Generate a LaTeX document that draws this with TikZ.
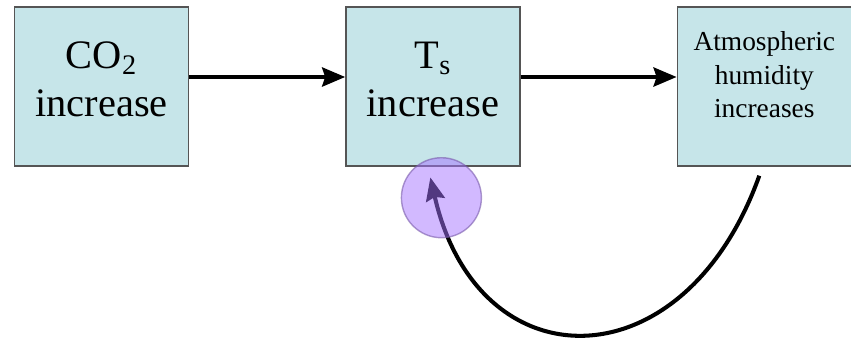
\documentclass[tikz,border=0pt]{standalone}
\usepackage{fontspec}
\setmainfont{Liberation Serif}
\usepackage{xcolor}
\usetikzlibrary{arrows.meta, positioning}
\definecolor{boxblue}{RGB}{198,229,233}
\definecolor{boxedge}{RGB}{85,85,85}
\definecolor{spotviolet}{RGB}{165,115,255}
\definecolor{spotedge}{RGB}{120,90,170}

\begin{document}
\begin{tikzpicture}[
    block/.style={rectangle, draw=boxedge, line width=0.8pt, fill=boxblue,
                  minimum width=3.48cm, minimum height=3.18cm, align=center,
                  text depth=0.3cm, font=\fontsize{23}{27.3}\selectfont},
    smallblock/.style={block, text depth=0.48cm, font=\fontsize{15.6}{18.8}\selectfont},
    link/.style={-{Stealth[length=0.46cm, width=0.38cm, inset=0.06cm]}, line width=2.3pt, black}
]
\useasboundingbox (0,0) rectangle (17.02,-6.74);

\node[block] (co2) at (2.03,-1.73) {CO\textsubscript{2}\\increase};
\node[block, right=3.12cm of co2] (ts) {T\textsubscript{s}\\increase};
\node[smallblock, right=3.12cm of ts] (hum) {Atmospheric\\humidity\\increases};
\coordinate[below=0.18cm of hum.south] (loopstart);

\draw[link] ([yshift=0.19cm]co2.east) -- ([yshift=0.19cm]ts.west);
\draw[link] ([yshift=0.19cm]ts.east) -- ([yshift=0.19cm]hum.west);
% feedback loop back to surface temperature
\draw[link, shorten >=0.22cm] ([xshift=-0.1cm]loopstart) .. controls +(-1.5,-4.2) and +(1.0,-4.38) .. ([xshift=-0.1cm]ts.south);

\node[circle, minimum size=1.6cm, fill=spotviolet, fill opacity=0.5,
      draw=spotedge, draw opacity=0.6, line width=0.8pt] (spot)
      at ([xshift=0.17cm, yshift=-0.62cm]ts.south) {};
\end{tikzpicture}
\end{document}
